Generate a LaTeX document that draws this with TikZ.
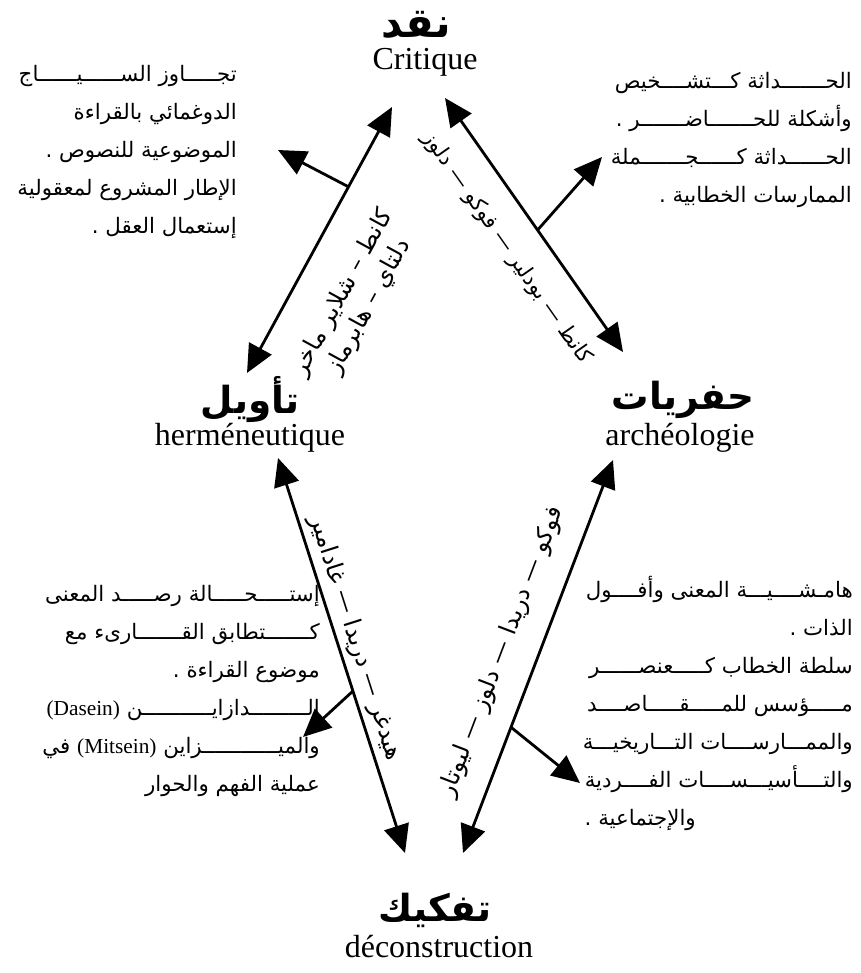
\documentclass[tikz,border=0pt]{standalone}
\usepackage{fontspec}
\setmainfont{Liberation Serif}
\newfontfamily\arabicfont[Script=Arabic]{DejaVu Sans}
\TeXXeTstate=1
\usetikzlibrary{arrows.meta,calc}
\newcommand{\rl}[1]{\beginR #1\endR}
\newcommand{\lt}[1]{\beginL{\rmfamily #1}\endL{}}
\begin{document}
\begin{tikzpicture}[x=0.75pt,y=-0.75pt]
\tikzset{
  dbl/.style={line width=2.1pt,{Triangle[length=21pt,width=19pt]}-{Triangle[length=21pt,width=19pt]}},
  single/.style={line width=2.1pt,-{Triangle[length=21pt,width=19pt]}},
  artitle/.style={font=\arabicfont\bfseries\fontsize{28}{32}\selectfont,inner sep=0pt},
  latin/.style={font=\fontsize{24}{28}\selectfont,inner sep=0pt},
  block/.style={font=\arabicfont\fontsize{16}{28.5}\selectfont,align=right,inner sep=0pt},
  lbl/.style={font=\arabicfont\fontsize{18}{22}\selectfont,align=center,inner sep=0pt},
}
\fill[white] (0,0) rectangle (860,973);
\useasboundingbox (0,0) rectangle (860,973);

% titles
\node[artitle,font=\arabicfont\bfseries\fontsize{31}{34}\selectfont] (naqd) at (416,25) {\rl{نقد}};
\node[latin] (crit) at (425,62) {Critique};
\node[artitle] (tawil) at (250,400) {\rl{تأويل}};
\node[latin] (herm) at (250,438) {herméneutique};
\node[artitle] (hafr) at (683,400) {\rl{حفريات}};
\node[latin] (arch) at (680,438) {archéologie};
\node[artitle] (tafk) at (435,910) {\rl{تفكيك}};
\node[latin] (dec) at (439,947) {déconstruction};

% text blocks
\node[block,anchor=east] (tl) at (237,152) {%
\rl{تجـــــاوز الســــــيــــــاج}\\
\rl{الدوغمائي بالقراءة}\\
\rl{الموضوعية للنصوص .}\\
\rl{الإطار المشروع لمعقولية}\\
\rl{إستعمال العقل .}};
\node[block,anchor=east] (tr) at (852,140) {%
\rl{الحـــــــداثة كـــتشــــخيص}\\
\rl{وأشكلة للحـــــــاضـــــــر .}\\
\rl{الحــــــداثة كــــــجـــــــملة}\\
\rl{الممارسات الخطابية .}};
\node[block,anchor=east] (bl) at (320,691) {%
\rl{إستـــــحـــــالة رصـــــد المعنى}\\
\rl{كـــــــتطابق القـــــــارىء مع}\\
\rl{موضوع القراءة .}\\
\rl{الـــــــــدازايـــــــــــن \lt{(Dasein)}}\\
\rl{والميــــــــــــزاين \lt{(Mitsein)} في}\\
\rl{عملية الفهم والحوار}};
\node[block,anchor=east] (br) at (853,703) {%
\rl{هامـشــــيـــة المعنى وأفــــول}\\
\rl{الذات .}\\
\rl{سلطة الخطاب كـــــعنصــــــر}\\
\rl{مـــــؤسس للمـــــقـــــاصــــد}\\
\rl{والممـــارســــات التـــاريخيـــة}\\
\rl{والتــــأسيـــســــات الفــــردية}\\
\makebox[201pt][l]{\rl{والإجتماعية .}}};

% arrow ends
\coordinate (a1) at (247,373); \coordinate (b1) at (392,107); \coordinate (t1) at (278,150);
\coordinate (a2) at (445,98);  \coordinate (b2) at (623,352); \coordinate (t2) at (602,157);
\coordinate (a3) at (278,458); \coordinate (b3) at (405,853); \coordinate (t3) at (303,737);
\coordinate (a4) at (613,460); \coordinate (b4) at (463,853); \coordinate (t4) at (580,783);

\draw[dbl] (a1) -- (b1);
\draw[dbl] (a2) -- (b2);
\draw[dbl] (a3) -- (b3);
\draw[dbl] (a4) -- (b4);
\draw[single] ($(a1)!0.70!(b1)$) -- (t1);
\draw[single] ($(a2)!0.52!(b2)$) -- (t2);
\draw[single] ($(a3)!0.59!(b3)$) -- (t3);
\draw[single] ($(a4)!0.68!(b4)$) -- (t4);

% labels on arrows
\node[lbl,rotate=61.4] (l1) at (356,300) {\rl{كانط – شلاير ماخر}\\ \rl{دلتاي – هابرماز}};
\node[lbl,rotate=-55,font=\arabicfont\fontsize{16}{20}\selectfont] (l2) at (507,248) {\rl{كانط — بودلير — فوكو — دلوز}};
\node[lbl,rotate=-72.3] (l3) at (355,638) {\rl{هيدغر — دريدا — غادامير}};
\node[lbl,rotate=69.1] (l4) at (502,652) {\rl{فوكو — دريدا — دلوز — ليوتار}};
\end{tikzpicture}
\end{document}
